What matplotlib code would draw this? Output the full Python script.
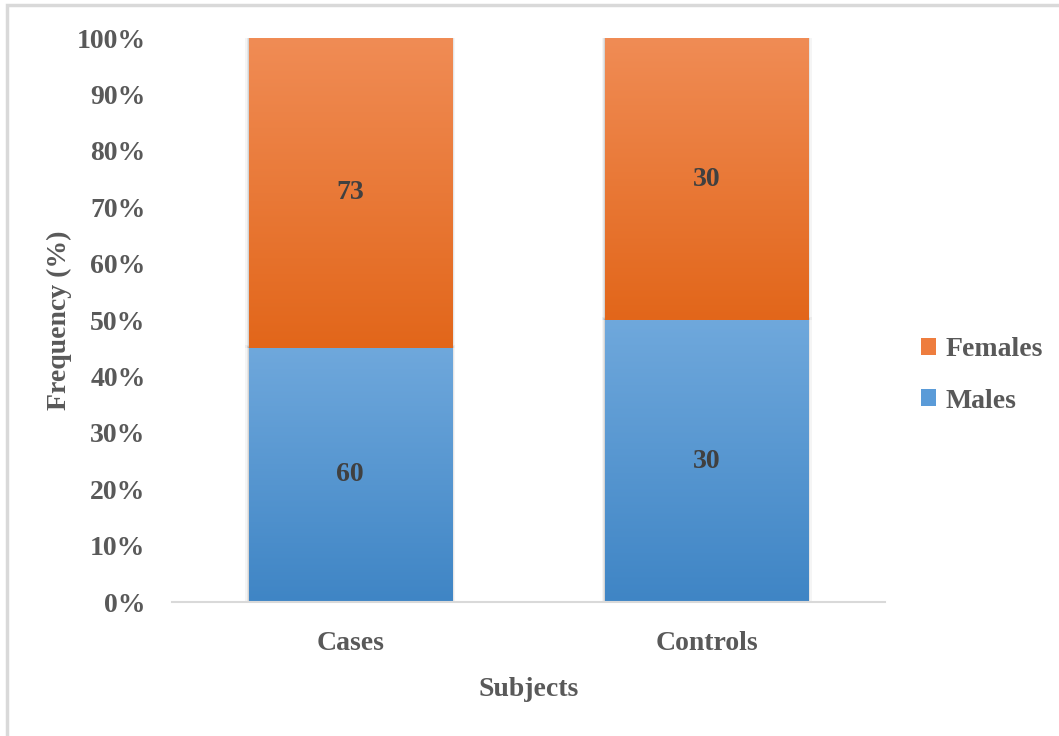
import numpy as np
import matplotlib
matplotlib.use("Agg")
import matplotlib.pyplot as plt
from matplotlib.patches import Rectangle, Patch
from matplotlib.colors import LinearSegmentedColormap

# --- data ---
subjects = ["Cases", "Controls"]
males = [60, 30]
females = [73, 30]

# shares of each bar (100% stacked)
totals = np.array(males) + np.array(females)
male_pct = np.array(males) / totals
female_pct = np.array(females) / totals

plt.rcParams["font.family"] = ["Liberation Serif", "DejaVu Serif"]
plt.rcParams["font.weight"] = "bold"

TXT = "#595959"
LBL = "#404040"
blue_cmap = LinearSegmentedColormap.from_list("b", ["#3F85C5", "#6FA8DC"])
orange_cmap = LinearSegmentedColormap.from_list("o", ["#E2661A", "#F08C55"])

fig = plt.figure(figsize=(10.59, 7.36), dpi=100)
ax = fig.add_axes([172 / 1059, 1 - 602 / 736, 713 / 1059, 564 / 736])

x = np.arange(len(subjects))
width = 0.57
b1 = ax.bar(x, male_pct, width, color="none", edgecolor="none", label="Males")
b2 = ax.bar(x, female_pct, width, bottom=male_pct, color="none",
            edgecolor="none", label="Females")

grad = np.linspace(0, 1, 256).reshape(-1, 1)
for bars, cmap in ((b1, blue_cmap), (b2, orange_cmap)):
    for r in bars:
        x0, y0 = r.get_x(), r.get_y()
        w, h = r.get_width(), r.get_height()
        # soft shadow
        for k, a in ((0.010, 0.04), (0.006, 0.06), (0.003, 0.08)):
            ax.add_patch(Rectangle((x0 - k, y0), w + 2 * k, h + k * 0.5,
                                   facecolor="black", alpha=a, lw=0, zorder=1))
        im = ax.imshow(grad, cmap=cmap, origin="lower", aspect="auto",
                       extent=[x0, x0 + w, y0, y0 + h], zorder=2)
        im.set_clip_path(r)

for i in range(len(subjects)):
    ax.text(x[i], male_pct[i] / 2, str(males[i]), ha="center", va="center",
            fontsize=20, color=LBL, fontweight="bold", zorder=3)
    ax.text(x[i], male_pct[i] + female_pct[i] / 2, str(females[i]),
            ha="center", va="center", fontsize=20, color=LBL,
            fontweight="bold", zorder=3)

ax.set_xlim(-0.5, 1.5)
ax.set_ylim(0, 1)
ax.set_yticks(np.arange(0, 1.01, 0.1))
ax.set_yticklabels([f"{int(round(v * 100))}%" for v in np.arange(0, 1.01, 0.1)])
ax.set_xticks(x)
ax.set_xticklabels(subjects)
ax.tick_params(axis="y", length=0, pad=19, labelsize=20, labelcolor=TXT)
ax.tick_params(axis="x", length=0, pad=21, labelsize=20, labelcolor=TXT)
for s in ("top", "right", "left"):
    ax.spines[s].set_visible(False)
ax.spines["bottom"].set_color("#D9D9D9")
ax.spines["bottom"].set_linewidth(1.5)
ax.spines["bottom"].set_zorder(4)

ax.set_xlabel("Subjects", fontsize=20, color=TXT, fontweight="bold", labelpad=15)
ax.set_ylabel("Frequency (%)", fontsize=20, color=TXT, fontweight="bold", labelpad=3)

handles = [Patch(facecolor="#EE7D3E", label="Females"),
           Patch(facecolor="#5A9BD8", label="Males")]
fig.legend(handles=handles, loc="center left", bbox_to_anchor=(0.846, 0.49),
           frameon=False, fontsize=20, labelcolor=TXT, handlelength=0.55,
           handleheight=0.55, handletextpad=0.35, labelspacing=0.95)

# outer frame
fig.add_artist(Rectangle((7 / 1059, -0.05), 1.2, 1 - 5 / 736 + 0.05,
                         transform=fig.transFigure, facecolor="none",
                         edgecolor="#D9D9D9", lw=2.5))

fig.savefig("out.png", dpi=100)
